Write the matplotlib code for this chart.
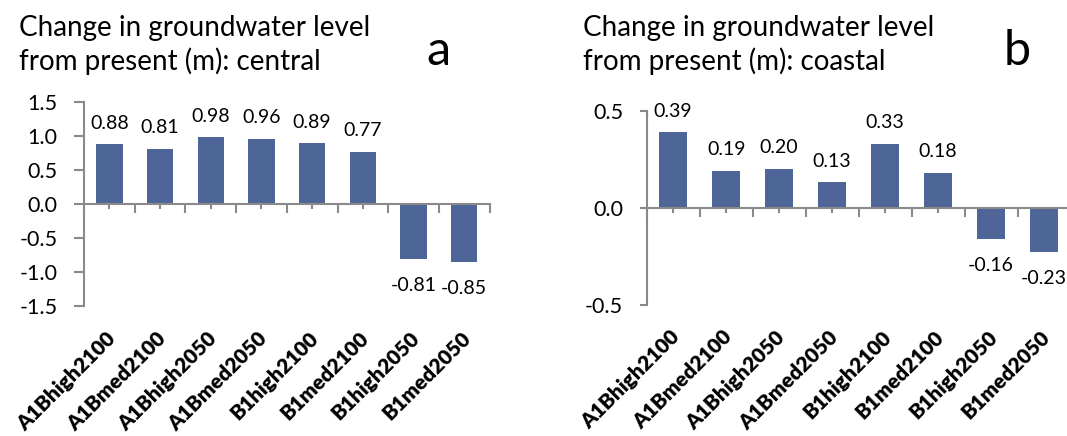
import numpy as np
import matplotlib.pyplot as plt
from matplotlib.ticker import MultipleLocator, FixedLocator, NullFormatter

plt.rcParams['font.family'] = ['Lato', 'DejaVu Sans']
plt.rcParams['axes.unicode_minus'] = False

# Scenario names and modelled groundwater level change (m)
scenarios = ['A1Bhigh2100', 'A1Bmed2100', 'A1Bhigh2050', 'A1Bmed2050',
             'B1high2100', 'B1med2100', 'B1high2050', 'B1med2050']
central = [0.88, 0.81, 0.98, 0.96, 0.89, 0.77, -0.81, -0.85]
coastal = [0.39, 0.19, 0.20, 0.13, 0.33, 0.18, -0.16, -0.23]

BAR = '#4d6597'
AXIS = '#8a8a8a'

fig = plt.figure(figsize=(10.67, 4.36), dpi=100)


def panel(rect, values, ylim, ytick_len, region, letter, title_x, letter_x):
    ax = fig.add_axes(rect)
    x = np.arange(len(values))
    ax.bar(x, values, width=0.52, color=BAR, zorder=2)
    ax.set_xlim(-0.5, len(values) - 0.5)
    ax.set_ylim(*ylim)

    for side in ('top', 'right'):
        ax.spines[side].set_visible(False)
    ax.spines['bottom'].set_position(('data', 0))
    for side in ('left', 'bottom'):
        ax.spines[side].set_color(AXIS)
        ax.spines[side].set_linewidth(1.5)
        ax.spines[side].set_zorder(3)

    ax.yaxis.set_major_locator(MultipleLocator(0.5))
    ax.yaxis.set_major_formatter(plt.FuncFormatter(lambda v, p: '%.1f' % v))
    ax.tick_params(axis='y', direction='out', length=ytick_len, width=1.5,
                   color=AXIS, labelsize=15.5, pad=12)

    # category boundaries get long ticks, centres short ones
    ax.xaxis.set_major_locator(FixedLocator(np.arange(len(values) + 1) - 0.5))
    ax.xaxis.set_minor_locator(FixedLocator(x))
    ax.xaxis.set_major_formatter(NullFormatter())
    ax.tick_params(axis='x', which='major', direction='out', length=6.5,
                   width=1.5, color=AXIS)
    ax.tick_params(axis='x', which='minor', direction='out', length=3.5,
                   width=1.5, color=AXIS)

    for i, v in enumerate(values):
        if v >= 0:
            ax.annotate('%.2f' % v, (i, v), xytext=(0, 9),
                        textcoords='offset points', ha='center', va='bottom',
                        fontsize=14)
        else:
            ax.annotate('%.2f' % v, (i, v), xytext=(0, -13),
                        textcoords='offset points', ha='center', va='top',
                        fontsize=14)

    for i, name in enumerate(scenarios):
        ax.annotate(name, (i, 0), xycoords=('data', 'axes fraction'),
                    xytext=(2, -21), textcoords='offset points',
                    rotation=45, rotation_mode='anchor', ha='right',
                    va='center', fontsize=15, fontweight='heavy',
                    annotation_clip=False)

    fig.text(title_x, 1 - 36 / 436,
             'Change in groundwater level', fontsize=20, va='baseline')
    fig.text(title_x, 1 - 70 / 436,
             'from present (m): ' + region, fontsize=20, va='baseline')
    fig.text(letter_x, 1 - 65 / 436, letter, fontsize=35, va='baseline')
    return ax


panel([84 / 1067, 130 / 436, 405.6 / 1067, 204 / 436], central,
      (-1.5, 1.5), 7, 'central', 'a', 19 / 1067, 426 / 1067)
panel([646.7 / 1067, 131.3 / 436, 423.8 / 1067, 194 / 436], coastal,
      (-0.5, 0.5), 5, 'coastal', 'b', 583 / 1067, 1004 / 1067)

fig.savefig('out.png', dpi=100)
